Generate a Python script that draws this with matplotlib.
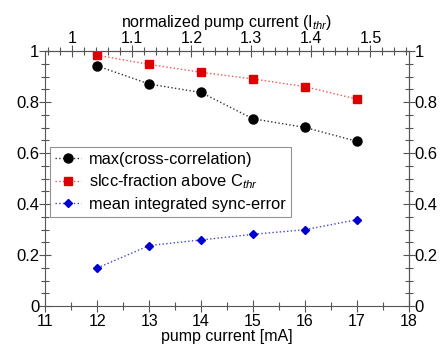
import matplotlib.pyplot as plt
import numpy as np
from matplotlib.ticker import FixedLocator, MultipleLocator, FormatStrFormatter

plt.rcParams['font.family'] = ['Liberation Sans', 'DejaVu Sans']
plt.rcParams['mathtext.fontset'] = 'custom'
plt.rcParams['mathtext.rm'] = 'Liberation Sans'
plt.rcParams['mathtext.it'] = 'Liberation Sans:italic'

# pump current (mA)
current = [12, 13, 14, 15, 16, 17]
# threshold current used for the top axis
i_thr = 11.51

max_xcorr = [0.942, 0.871, 0.838, 0.735, 0.701, 0.647]
slcc_frac = [0.984, 0.948, 0.917, 0.891, 0.861, 0.812]
sync_err = [0.150, 0.238, 0.260, 0.282, 0.300, 0.339]

axis_col = '#555555'

fig = plt.figure(figsize=(4.46, 3.48), dpi=100)
ax = fig.add_axes([0.102, 0.12, 0.814, 0.733])

ax.plot(current, max_xcorr, ':', color='#333333', lw=1.0, marker='o', ms=6.5,
        mfc='black', mec='black', label='max(cross-correlation)')
ax.plot(current, slcc_frac, ':', color='#ee5555', lw=1.0, marker='s', ms=6,
        mfc='#dd0000', mec='#dd0000', label='slcc-fraction above C$_{thr}$')
ax.plot(current, sync_err, ':', color='#4444cc', lw=1.0, marker='D', ms=4,
        mfc='#0000cc', mec='#0000cc', label='mean integrated sync-error')

ax.set_xlim(11, 18)
ax.set_ylim(0, 1)
ax.xaxis.set_major_locator(FixedLocator(range(11, 19)))
ax.xaxis.set_minor_locator(MultipleLocator(0.5))
ax.yaxis.set_major_locator(FixedLocator([0, 0.2, 0.4, 0.6, 0.8, 1.0]))
ax.yaxis.set_minor_locator(MultipleLocator(0.05))
ax.yaxis.set_major_formatter(FormatStrFormatter('%g'))
ax.set_xlabel('pump current [mA]', fontsize=11.5, labelpad=0)

top = ax.secondary_xaxis('top', functions=(lambda x: x / i_thr, lambda x: x * i_thr))
top.xaxis.set_major_locator(FixedLocator([1.0, 1.1, 1.2, 1.3, 1.4, 1.5]))
top.xaxis.set_minor_locator(MultipleLocator(0.02))
top.xaxis.set_major_formatter(FormatStrFormatter('%g'))
top.set_xlabel('normalized pump current (I$_{thr}$)', fontsize=11.5, labelpad=3)

right = ax.secondary_yaxis('right')
right.yaxis.set_major_locator(FixedLocator([0, 0.2, 0.4, 0.6, 0.8, 1.0]))
right.yaxis.set_minor_locator(MultipleLocator(0.05))
right.yaxis.set_major_formatter(FormatStrFormatter('%g'))

for a in (ax, top, right):
    a.tick_params(which='major', direction='inout', length=9, width=0.8,
                  color=axis_col, labelsize=12, pad=0)
    a.tick_params(which='minor', direction='inout', length=6, width=0.8,
                  color=axis_col)
    for s in a.spines.values():
        s.set_color(axis_col)
        s.set_linewidth(0.8)
ax.tick_params(axis='x', labelsize=11.5, pad=1)
top.tick_params(labelsize=11.5, pad=-1)

leg = ax.legend(loc='upper left', bbox_to_anchor=(0.012, 0.625), fontsize=11.8,
                frameon=True, fancybox=False, edgecolor='#777777',
                handlelength=1.6, handletextpad=0.5, borderpad=0.3,
                labelspacing=0.35, borderaxespad=0)
leg.get_frame().set_linewidth(0.8)

fig.savefig('out.png', dpi=100)
